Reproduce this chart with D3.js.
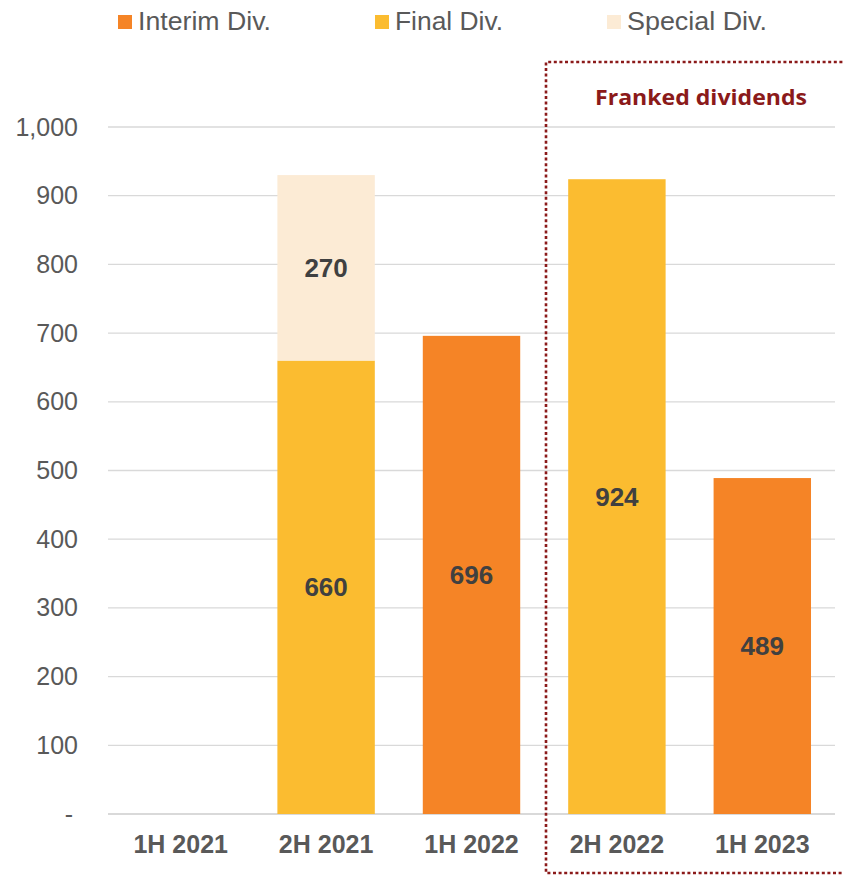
<!DOCTYPE html>
<html>
<head>
<meta charset="utf-8">
<script src="https://cdn.jsdelivr.net/npm/d3@7"></script>
<style>
  body { margin: 0; background: #fff; }
  svg { display: block; font-family: "Liberation Sans", Arial, sans-serif; }
</style>
</head>
<body>
<svg id="chart" width="843" height="876"></svg>
<script>
const categories = ["1H 2021", "2H 2021", "1H 2022", "2H 2022", "1H 2023"];
const interimDiv = [0, 0, 696, 0, 489];
const finalDiv = [0, 660, 0, 924, 0];
const specialDiv = [0, 270, 0, 0, 0];
const yTicks = [0, 100, 200, 300, 400, 500, 600, 700, 800, 900, 1000];

const series = [
  { key: "interim", name: "Interim Div.", values: interimDiv, color: "#F58426" },
  { key: "final", name: "Final Div.", values: finalDiv, color: "#FBBC30" },
  { key: "special", name: "Special Div.", values: specialDiv, color: "#FCEBD5" }
];

const svg = d3.select("#chart");
const margin = { top: 127, right: 8, bottom: 62, left: 108 };
const width = +svg.attr("width");
const height = +svg.attr("height");
const innerWidth = width - margin.left - margin.right;
const innerHeight = height - margin.top - margin.bottom;

const x = d3.scaleBand().domain(categories).range([0, innerWidth]).paddingInner(0.33).paddingOuter(0.165);
const y = d3.scaleLinear().domain([0, 1000]).range([innerHeight, 0]);

const g = svg.append("g").attr("transform", `translate(${margin.left},${margin.top})`);

// gridlines
g.selectAll(".grid").data(yTicks).enter().append("line")
  .attr("x1", 0).attr("x2", innerWidth)
  .attr("y1", d => y(d)).attr("y2", d => y(d))
  .attr("stroke", "#d9d9d9").attr("stroke-width", d => d === 0 ? 2 : 1.3);

// y axis
const yAxis = d3.axisLeft(y).tickValues(yTicks).tickSize(0).tickPadding(30)
  .tickFormat(d => d === 0 ? "-" : d3.format(",")(d));
const yg = g.append("g").call(yAxis);
yg.select(".domain").remove();
yg.selectAll("text").attr("font-size", 25).attr("fill", "#595959")
  .attr("font-family", "Liberation Sans, Arial, sans-serif")
  .attr("dx", d => d === 0 ? -5 : 0);

// x axis
const xAxis = d3.axisBottom(x).tickSize(0).tickPadding(21);
const xg = g.append("g").attr("transform", `translate(0,${innerHeight})`).call(xAxis);
xg.select(".domain").remove();
xg.selectAll("text").attr("font-size", 25).attr("font-weight", "bold").attr("fill", "#595959")
  .attr("font-family", "Liberation Sans, Arial, sans-serif");

// stacked bars
const rows = categories.map((c, i) => {
  const r = { category: c };
  series.forEach(s => { r[s.key] = s.values[i]; });
  return r;
});
const stack = d3.stack().keys(series.map(s => s.key));
const stacked = stack(rows);

stacked.forEach((layer, li) => {
  const s = series[li];
  const nonZero = layer.filter(d => d[1] - d[0] > 0);

  g.selectAll(".bar-" + s.key).data(nonZero).enter().append("rect")
    .attr("x", d => x(d.data.category))
    .attr("width", x.bandwidth())
    .attr("y", d => y(d[1]))
    .attr("height", d => y(d[0]) - y(d[1]))
    .attr("fill", s.color);

  g.selectAll(".label-" + s.key).data(nonZero).enter().append("text")
    .attr("x", d => x(d.data.category) + x.bandwidth() / 2)
    .attr("y", d => y((d[0] + d[1]) / 2))
    .attr("dy", "0.35em")
    .attr("text-anchor", "middle")
    .attr("font-size", 26).attr("font-weight", "bold").attr("fill", "#404040")
    .text(d => d[1] - d[0]);
});

// legend
const legendX = [118, 375, 607];
const legendW = [133, 108, 140];
const legend = svg.append("g");
series.forEach((s, i) => {
  legend.append("rect").attr("x", legendX[i]).attr("y", 15).attr("width", 14).attr("height", 14).attr("fill", s.color);
  legend.append("text").attr("x", legendX[i] + 20).attr("y", 30)
    .attr("font-size", 25).attr("fill", "#595959")
    .attr("textLength", legendW[i]).attr("lengthAdjust", "spacingAndGlyphs")
    .text(s.name);
});

// franked dividends box
const boxColor = "#8B1A1A";
const boxLeft = 546, boxTop = 62, boxBottom = 873;
svg.append("path")
  .attr("d", `M${width + 5},${boxTop} L${boxLeft},${boxTop} L${boxLeft},${boxBottom} L${width + 5},${boxBottom}`)
  .attr("fill", "none").attr("stroke", boxColor).attr("stroke-width", 2.6)
  .attr("stroke-dasharray", "3,2.6");
svg.append("text").attr("x", 701).attr("y", 105).attr("text-anchor", "middle")
  .attr("font-family", "Open Sans, sans-serif").attr("font-weight", "bold")
  .attr("font-size", 21).attr("fill", boxColor).attr("textLength", 212).attr("lengthAdjust", "spacingAndGlyphs")
  .text("Franked dividends");
</script>
</body>
</html>
